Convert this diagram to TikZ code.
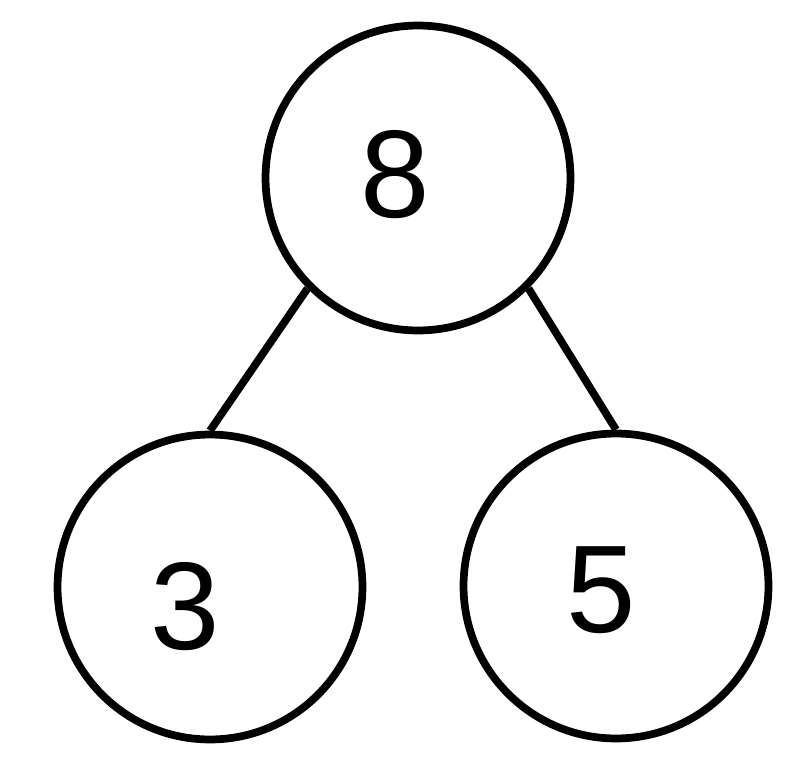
\documentclass[tikz,border=0pt]{standalone}
\usepackage{fontspec}
\setmainfont{Liberation Sans}
\usepackage{tikz}
\tikzset{ball/.style={draw,circle,line width=4.4pt,minimum size=6.1cm,inner sep=0pt},
  digit/.style={inner sep=0pt,font=\fontsize{71}{80}\selectfont}}
\def\bond{\draw[line width=4.4pt]}

\begin{document}
\begin{tikzpicture}[x=0.02cm,y=-0.02cm]
                \useasboundingbox (0,0) rectangle (800,760);
                \node[ball] (top) at (418,178) {};
                \node[ball] (left) at (210,587) {};
                \node[ball] (right) at (616,586) {};
                \node[digit] (eight) at (395,175) {8};
                \node[digit] (three) at (185,607) {3};
                \node[digit] (five) at (601,590) {5};
                \bond (top.225) -- (left.north);
                \bond (top.-45) -- (right.north);
            \end{tikzpicture}
\end{document}
